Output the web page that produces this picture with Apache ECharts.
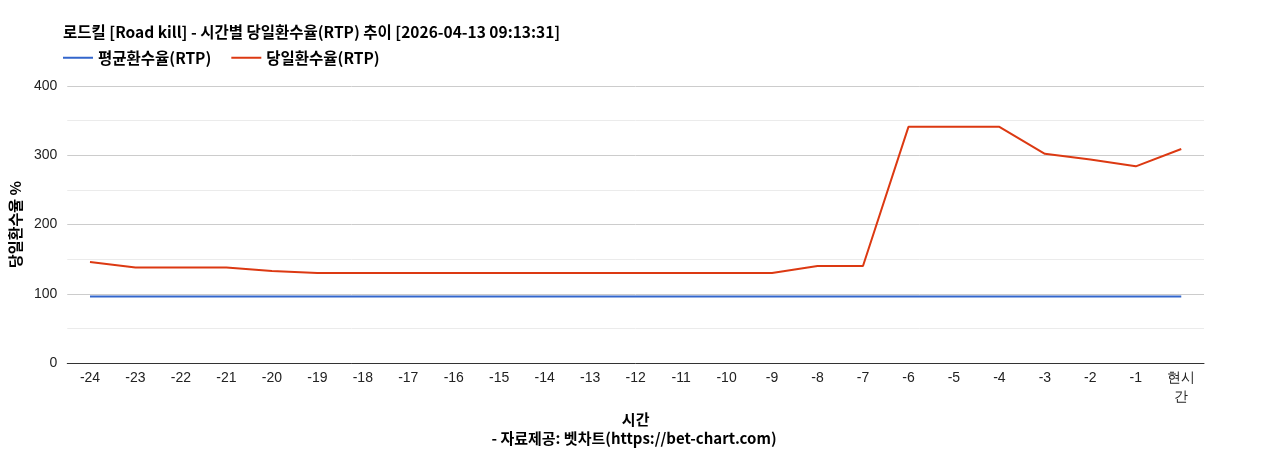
<!DOCTYPE html>
<html><head><meta charset="utf-8">
<script src="https://cdn.jsdelivr.net/npm/echarts@6/dist/echarts.min.js"></script>
<style>html,body{margin:0;padding:0;background:#fff}#c{width:1268px;height:450px}</style>
</head><body><div id="c"></div>
<script>
const categories = ['-24','-23','-22','-21','-20','-19','-18','-17','-16','-15','-14','-13','-12','-11','-10','-9','-8','-7','-6','-5','-4','-3','-2','-1','현시간'];
const avgRtp = [96,96,96,96,96,96,96,96,96,96,96,96,96,96,96,96,96,96,96,96,96,96,96,96,96];
const dailyRtp = [146,138,138,138,133,130,130,130,130,130,130,130,130,130,130,130,140,140,341,341,341,302,294,284,309];
const yTicks = [0,100,200,300,400];
const titleText = '로드킬 [Road kill] - 시간별 당일환수율(RTP) 추이 [2026-04-13 09:13:31]';
const sourceText = '- 자료제공: 벳차트(https://bet-chart.com)';
const KR = '"Noto Sans CJK KR","Noto Sans",sans-serif';
const chart = echarts.init(document.getElementById('c'));
chart.setOption({
  animation:false,
  title:[
    {text:titleText,left:58,top:19,textStyle:{fontFamily:KR,fontSize:15.5,fontWeight:'bold',color:'#000'}},
    {text:sourceText,left:'center',top:426,textStyle:{fontFamily:KR,fontSize:15,fontWeight:'bold',color:'#000'}}
  ],
  legend:{left:58,top:45,itemWidth:30,itemHeight:2,itemGap:20,icon:'rect',
    textStyle:{fontFamily:KR,fontSize:15.5,fontWeight:'bold',color:'#000'},
    data:['평균환수율(RTP)','당일환수율(RTP)']},
  grid:{left:60,right:64,top:86,bottom:87},
  xAxis:{type:'category',data:categories,boundaryGap:true,
    name:'시간',nameLocation:'middle',nameGap:46,
    nameTextStyle:{fontFamily:KR,fontSize:15,fontWeight:'bold',color:'#000'},
    axisLine:{lineStyle:{color:'#333'}},axisTick:{show:false},
    axisLabel:{interval:0,fontFamily:'"Liberation Sans",Arial,sans-serif',fontSize:14,color:'#222',margin:6,lineHeight:19,
      formatter:v=>v==='현시간'?'현시\n간':v}},
  yAxis:{type:'value',min:0,max:400,interval:50,
    name:'당일환수율 %',nameLocation:'middle',nameGap:41,nameRotate:90,
    nameTextStyle:{fontFamily:KR,fontSize:15,fontWeight:'bold',color:'#000'},
    axisLine:{show:false},axisTick:{show:false},
    axisLabel:{fontFamily:'"Liberation Sans",Arial,sans-serif',fontSize:14,color:'#222',margin:10,
      formatter:v=>yTicks.indexOf(v)>=0?String(v):''},
    splitLine:{lineStyle:{color:['#cccccc','#ebebeb']}}},
  series:[
    {name:'평균환수율(RTP)',type:'line',data:avgRtp,symbol:'none',color:'#3366cc',lineStyle:{width:2,color:'#3366cc'}},
    {name:'당일환수율(RTP)',type:'line',data:dailyRtp,symbol:'none',color:'#dc3912',lineStyle:{width:2,color:'#dc3912'}}
  ]
});
</script></body></html>
